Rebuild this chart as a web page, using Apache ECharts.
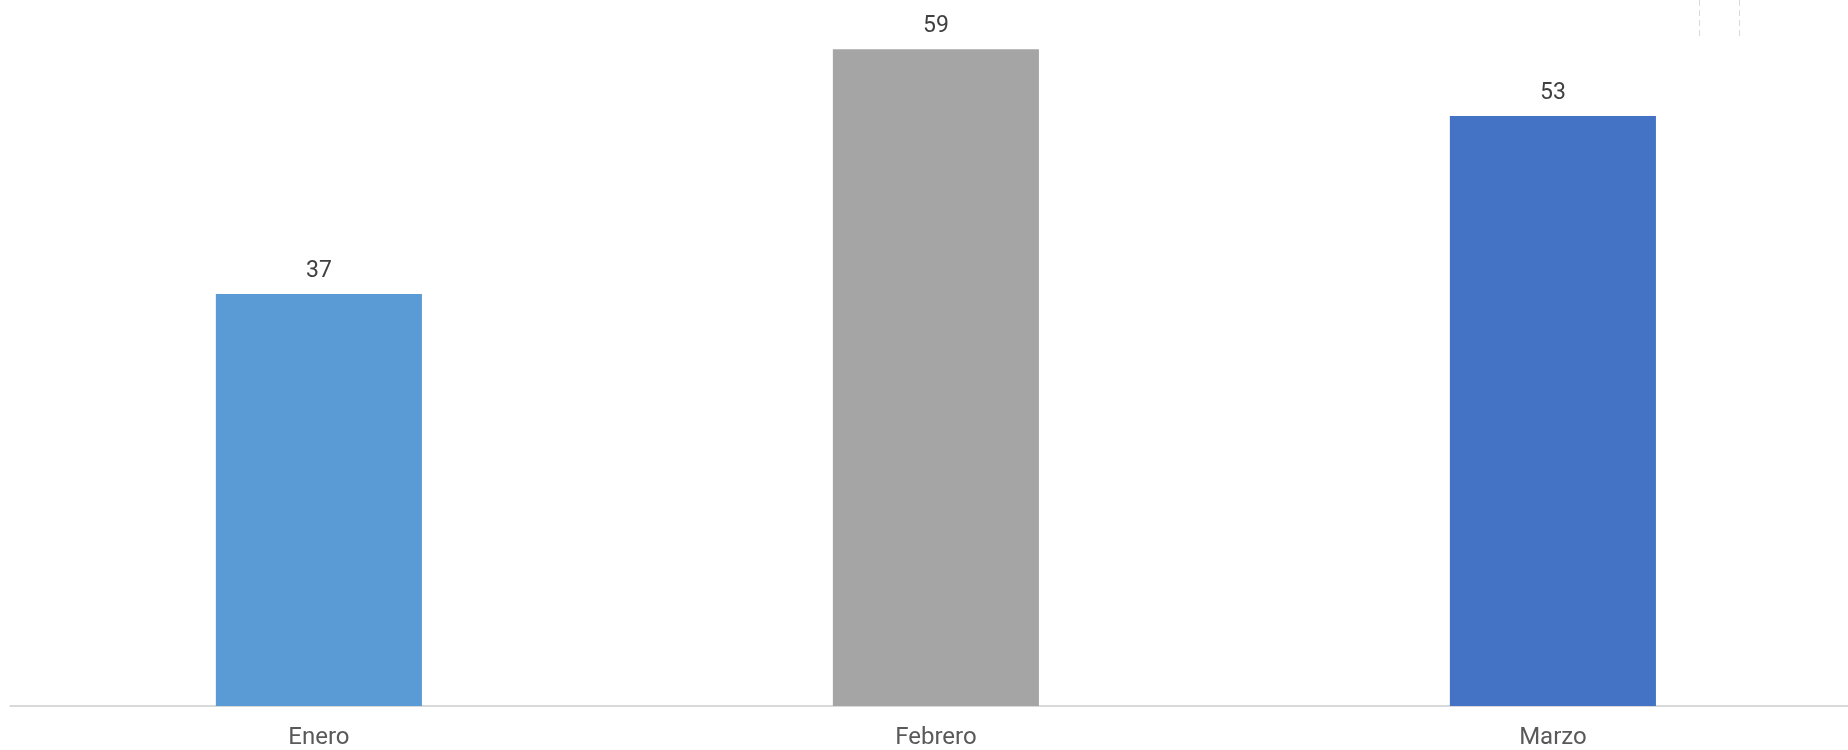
<!DOCTYPE html>
<html><head><meta charset="utf-8">
<script src="https://cdn.jsdelivr.net/npm/echarts@6/dist/echarts.min.js"></script>
<style>html,body{margin:0;padding:0;background:#fff}#c{width:1848px;height:750px}</style>
</head><body><div id="c"></div>
<script>
const categories = ['Enero', 'Febrero', 'Marzo'];
const values = [37, 59, 53];
const barColors = ['#5b9bd5', '#a5a5a5', '#4472c4'];

const chart = echarts.init(document.getElementById('c'));
chart.setOption({
  animation: false,
  grid: { left: 10.4, width: 1851, top: 38, bottom: 44, containLabel: false, outerBoundsMode: 'none' },
  xAxis: {
    type: 'category', data: categories,
    axisLine: { lineStyle: { color: '#d9d9d9', width: 2 } },
    axisTick: { show: false },
    axisLabel: { color: '#595959', fontFamily: 'Roboto', fontSize: 24, margin: 20 }
  },
  yAxis: { type: 'value', min: 0, max: 60, show: false, splitLine: { show: false } },
  series: [{
    type: 'bar', barWidth: '33.4%',
    data: values.map((v, i) => ({ value: v, itemStyle: { color: barColors[i] } })),
    label: { show: true, position: 'top', distance: 11, color: '#404040', fontFamily: 'Roboto', fontSize: 23 }
  }],
  graphic: [
    { type: 'line', shape: { x1: 1699.5, y1: 0, x2: 1699.5, y2: 40 }, style: { stroke: '#d9d9d9', lineWidth: 1, lineDash: [6, 4] } },
    { type: 'line', shape: { x1: 1739.5, y1: 0, x2: 1739.5, y2: 40 }, style: { stroke: '#d9d9d9', lineWidth: 1, lineDash: [6, 4] } }
  ]
});
</script></body></html>
